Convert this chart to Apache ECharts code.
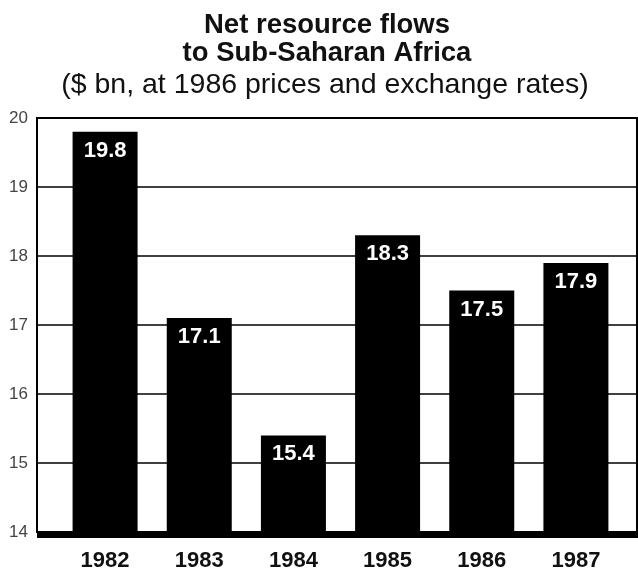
<!DOCTYPE html>
<html>
<head>
<meta charset="utf-8">
<script src="https://cdn.jsdelivr.net/npm/echarts@6/dist/echarts.min.js"></script>
<style>
html,body{margin:0;padding:0;background:#fff;}
#chart{width:638px;height:568px;}
</style>
</head>
<body>
<div id="chart"></div>
<script>
// Net resource flows to Sub-Saharan Africa, $ bn at 1986 prices
const years = ['1982', '1983', '1984', '1985', '1986', '1987'];
const flows = [19.8, 17.1, 15.4, 18.3, 17.5, 17.9];
const yTicks = [14, 15, 16, 17, 18, 19, 20];

const FONT = '"Liberation Sans", Arial, sans-serif';
const chart = echarts.init(document.getElementById('chart'));

chart.setOption({
  backgroundColor: '#fff',
  animation: false,
  title: [
    {
      text: 'Net resource flows\nto Sub-Saharan Africa',
      left: 322, top: 6, textAlign: 'center',
      textStyle: { fontFamily: FONT, fontWeight: 'bold', fontSize: 27.5, lineHeight: 28, color: '#111' }
    },
    {
      text: '($ bn, at 1986 prices and exchange rates)',
      left: 320, top: 66, textAlign: 'center',
      textStyle: { fontFamily: FONT, fontWeight: 'normal', fontSize: 28.5, lineHeight: 28, color: '#111' }
    }
  ],
  grid: [
    // framed panel with the value scale
    { left: 37, right: 1, top: 118, bottom: 36, outerBoundsMode: 'none', containLabel: false,
      show: true, borderColor: '#000', borderWidth: 2 },
    // bars sit in a slightly inset band
    { left: 58, right: 15, top: 118, bottom: 36, outerBoundsMode: 'none', containLabel: false }
  ],
  xAxis: [
    { type: 'category', gridIndex: 0, data: years, show: false },
    {
      type: 'category', gridIndex: 1, data: years,
      axisLine: { show: false }, axisTick: { show: false },
      axisLabel: { fontFamily: FONT, fontWeight: 'bold', fontSize: 22, color: '#111', margin: 18 }
    }
  ],
  yAxis: [
    {
      type: 'value', gridIndex: 0, min: 14, max: 20, interval: 1,
      axisLine: { show: false }, axisTick: { show: false },
      axisLabel: {
        fontFamily: FONT, fontSize: 17, color: '#444', margin: 9,
        formatter: v => yTicks.includes(v) ? String(v) : ''
      },
      splitLine: { show: true, lineStyle: { color: '#000', width: 1.5 } }
    },
    { type: 'value', gridIndex: 1, min: 14, max: 20, interval: 1, show: false, splitLine: { show: false } }
  ],
  series: [
    {
      type: 'bar', xAxisIndex: 1, yAxisIndex: 1,
      data: flows, barWidth: 65,
      itemStyle: { color: '#000' },
      label: {
        show: true, position: 'insideTop', distance: 8,
        fontFamily: FONT, fontWeight: 'bold', fontSize: 22, color: '#fff',
        formatter: p => p.value.toFixed(1)
      }
    }
  ],
  graphic: [
    // heavy baseline along the bottom of the panel
    { type: 'rect', shape: { x: 37, y: 531, width: 601, height: 7 }, style: { fill: '#000' }, z: 100 }
  ]
});
</script>
</body>
</html>
